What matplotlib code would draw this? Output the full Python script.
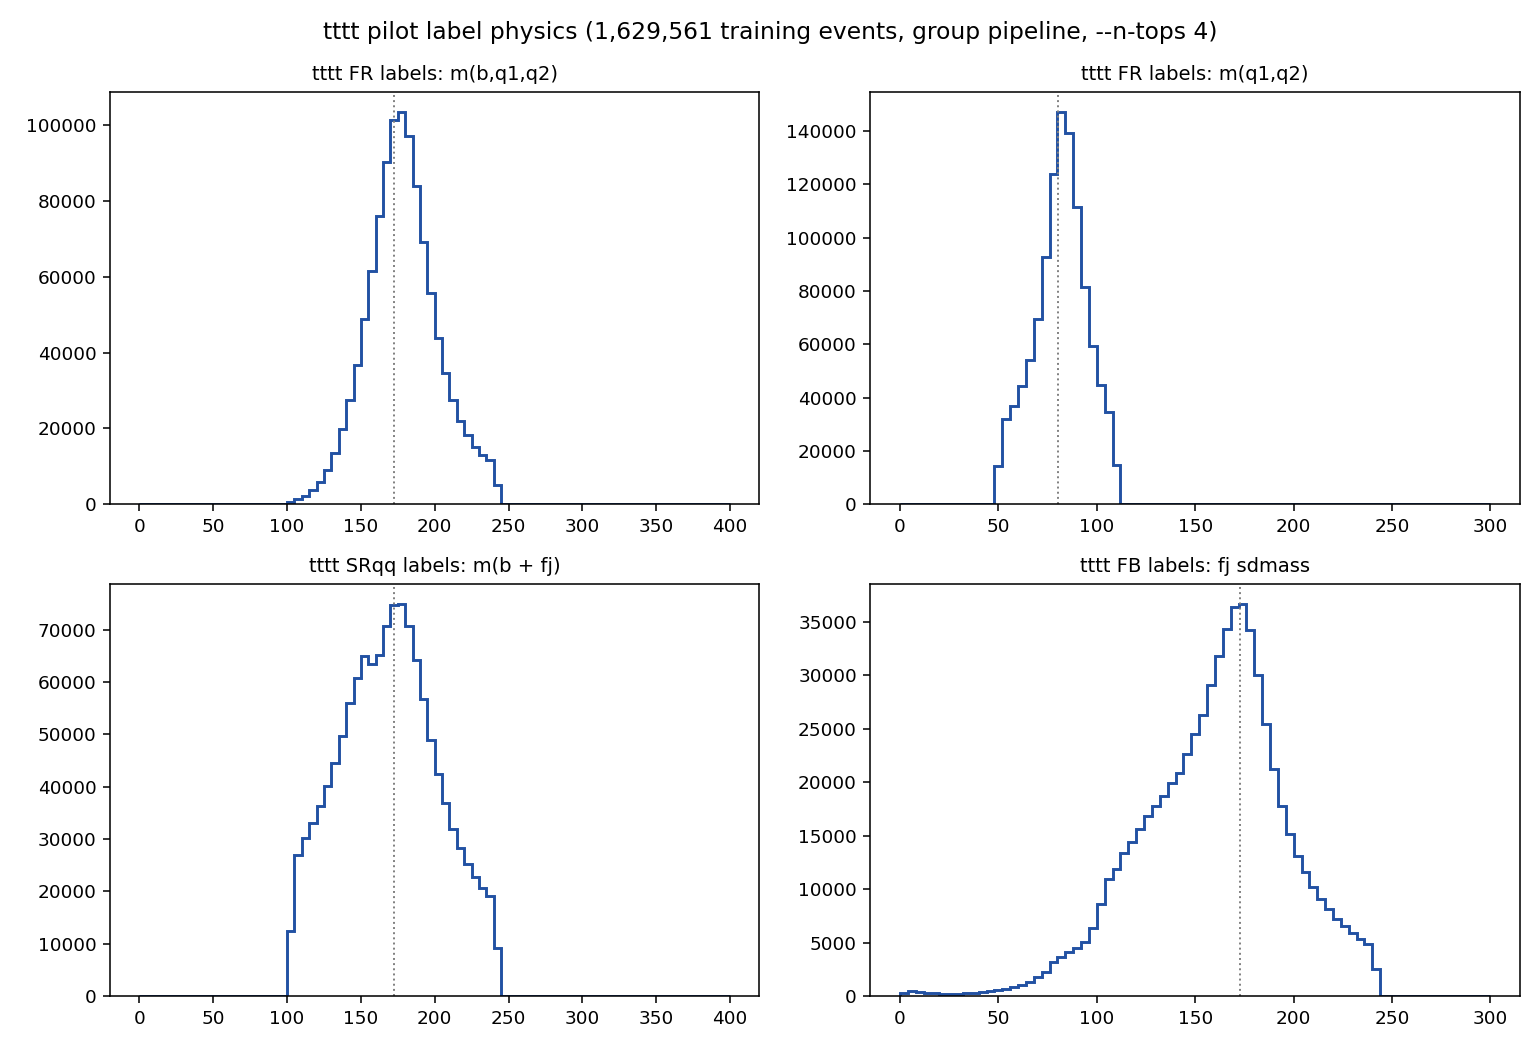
import numpy as np
import matplotlib
matplotlib.use("Agg")
import matplotlib.pyplot as plt

# m(b,q1,q2): bins of 5 GeV over 0-400, counts for 100-245
fr_bqq_edges = np.arange(0, 405, 5)
fr_bqq_lo = 100
fr_bqq_counts = [500, 1300, 2000, 3700, 5700, 9000, 13400, 19750, 27400, 36700,
                 48850, 61550, 76100, 90200, 101300, 103600, 97250, 84050, 69300, 55800,
                 43830, 34570, 27500, 22050, 18170, 15170, 12870, 11640, 5115]

# m(q1,q2): bins of 4 GeV over 0-300, counts for 48-112
fr_qq_edges = np.arange(0, 304, 4)
fr_qq_lo = 48
fr_qq_counts = [14300, 31980, 36870, 44390, 54170, 69470, 92920, 124020,
                147350, 139320, 111480, 81380, 59310, 44770, 34490, 14550]

# SRqq m(b + fj): bins of 5 GeV over 0-400, counts for 100-245
srqq_edges = np.arange(0, 405, 5)
srqq_lo = 100
srqq_counts = [12460, 26970, 30100, 33100, 36300, 40130, 44470, 49650, 55910, 60700,
               64920, 63320, 65110, 70670, 74760, 74950, 70670, 64220, 56740, 48820,
               42370, 36810, 31820, 28180, 25240, 22750, 20640, 19170, 9140]

# FB fj sdmass: bins of 4 GeV over 0-300, counts for 0-244
fb_edges = np.arange(0, 304, 4)
fb_lo = 0
fb_counts = [280, 470, 375, 280, 280, 220, 220, 220, 280, 280,
             375, 470, 563, 657, 814, 1030, 1315, 1750, 2285, 3200,
             3631, 4132, 4476, 5071, 6354, 8639, 10955, 11894, 13396, 14429,
             15587, 16839, 17810, 18717, 19969, 20846, 22630, 24477, 26261, 29140,
             31800, 34367, 36433, 36715, 34242, 30048, 25447, 21221, 17778, 15200,
             13100, 11605, 10165, 9040, 8163, 7225, 6506, 5880, 5317, 4879, 2503]

titles = ["tttt FR labels: m(b,q1,q2)", "tttt FR labels: m(q1,q2)",
          "tttt SRqq labels: m(b + fj)", "tttt FB labels: fj sdmass"]
ref_lines = [172.76, 80.4, 172.76, 172.76]

panels = [
    (fr_bqq_edges, fr_bqq_lo, fr_bqq_counts),
    (fr_qq_edges, fr_qq_lo, fr_qq_counts),
    (srqq_edges, srqq_lo, srqq_counts),
    (fb_edges, fb_lo, fb_counts),
]

fig, axes = plt.subplots(2, 2, figsize=(11, 7.5), dpi=140)
fig.subplots_adjust(left=0.0714, right=0.987, top=0.9124, bottom=0.0514,
                    wspace=0.171, hspace=0.194)

for ax, (edges, lo, counts), title, ref in zip(axes.flat, panels, titles, ref_lines):
    full = np.zeros(len(edges) - 1)
    start = int(np.searchsorted(edges, lo))
    full[start:start + len(counts)] = counts
    ax.hist(edges[:-1], bins=edges, weights=full, histtype="step",
            color="#2251a3", linewidth=1.5)
    ax.axvline(ref, color="gray", linestyle=":", linewidth=1)
    ax.set_title(title, fontsize=10)
    ax.tick_params(labelsize=9.5)

fig.suptitle("tttt pilot label physics (1,629,561 training events, group pipeline, --n-tops 4)",
             fontsize=12)

plt.savefig("out.png", dpi=140)
